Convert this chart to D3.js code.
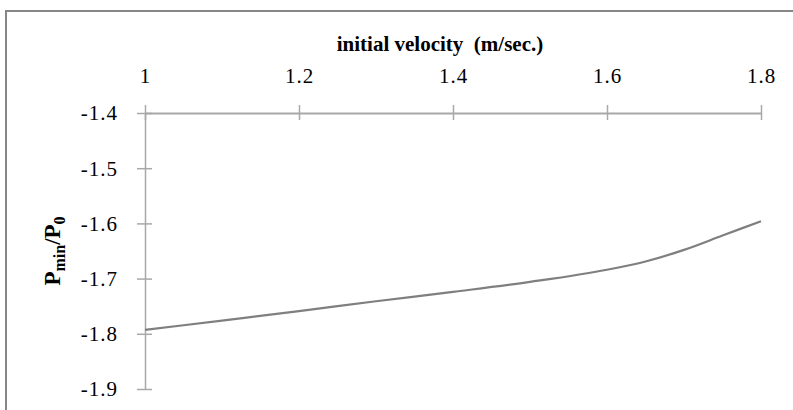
<!DOCTYPE html>
<html>
<head>
<meta charset="utf-8">
<script src="https://cdn.jsdelivr.net/npm/d3@7"></script>
<style>
  html, body { margin: 0; padding: 0; background: #fff; }
  svg { display: block; }
  text { font-family: "Liberation Serif", "Times New Roman", serif; fill: #000; }
</style>
</head>
<body>
<script>
// Minimum pressure ratio against initial velocity
const velocity = [1.0, 1.1, 1.2, 1.3, 1.4, 1.5, 1.6, 1.65, 1.7, 1.75, 1.8];
const pressureRatio = [-1.793, -1.776, -1.759, -1.741, -1.724, -1.706, -1.684, -1.669, -1.648, -1.622, -1.596];

const xTicks = [1, 1.2, 1.4, 1.6, 1.8];
const xTickLabels = ["1", "1.2", "1.4", "1.6", "1.8"];
const yTicks = [-1.4, -1.5, -1.6, -1.7, -1.8, -1.9];
const yTickLabels = ["-1.4", "-1.5", "-1.6", "-1.7", "-1.8", "-1.9"];

const W = 793, H = 410;
const svg = d3.select("body").append("svg").attr("width", W).attr("height", H);

// Chart area frame (runs off the right and bottom edges)
svg.append("rect")
  .attr("x", 6).attr("y", 11)
  .attr("width", 900).attr("height", 500)
  .attr("fill", "#fff")
  .attr("stroke", "#878787").attr("stroke-width", 2);

const x = d3.scaleLinear().domain([1, 1.8]).range([145, 761]);
const y = d3.scaleLinear().domain([-1.9, -1.4]).range([389, 113]);

const axisColor = "#a8a8a8";
const tickFont = "21px";

// Top x axis
const gx = svg.append("g").attr("transform", `translate(0,${y(-1.4)})`)
  .call(d3.axisTop(x).tickValues(xTicks).tickFormat((d, i) => xTickLabels[i]).tickSize(8).tickSizeOuter(0));
gx.select(".domain").attr("stroke", axisColor).attr("stroke-width", 2);
gx.selectAll(".tick line").attr("stroke", axisColor).attr("stroke-width", 1.5).attr("y1", 7).attr("y2", -8);
gx.selectAll(".tick text")
  .attr("y", -30).attr("dy", 0)
  .style("font-size", tickFont)
  .style("letter-spacing", "1px")
  .style("font-family", "'Liberation Serif', serif");

// Left y axis
const gy = svg.append("g").attr("transform", `translate(${x(1)},0)`)
  .call(d3.axisLeft(y).tickValues(yTicks).tickFormat((d, i) => yTickLabels[i]).tickSize(8).tickSizeOuter(0));
gy.select(".domain").attr("stroke", axisColor).attr("stroke-width", 1.5);
gy.selectAll(".tick line").attr("stroke", axisColor).attr("stroke-width", 1.5).attr("x1", 7).attr("x2", -8);
gy.selectAll(".tick text")
  .attr("x", -27).attr("dy", "0.33em")
  .style("font-size", tickFont)
  .style("letter-spacing", "1px")
  .style("font-family", "'Liberation Serif', serif");

// Data curve
const line = d3.line()
  .x((d, i) => x(velocity[i]))
  .y(d => y(d))
  .curve(d3.curveMonotoneX);
svg.append("path")
  .datum(pressureRatio)
  .attr("fill", "none")
  .attr("stroke", "#7f7f7f")
  .attr("stroke-width", 2.2)
  .attr("d", line);

// Axis titles
svg.append("text")
  .attr("x", 440).attr("y", 51)
  .attr("text-anchor", "middle")
  .style("font-size", "21px").style("font-weight", "bold")
  .style("white-space", "pre")
  .text("initial velocity  (m/sec.)");

const yTitle = svg.append("text")
  .attr("transform", "translate(60,251) rotate(-90)")
  .attr("text-anchor", "middle")
  .style("font-size", "23px").style("font-weight", "bold");
yTitle.append("tspan").text("P");
yTitle.append("tspan").text("min").attr("dy", 5).style("font-size", "16px");
yTitle.append("tspan").text("/P").attr("dy", -5);
yTitle.append("tspan").text("0").attr("dy", 5).style("font-size", "16px");
</script>
</body>
</html>
